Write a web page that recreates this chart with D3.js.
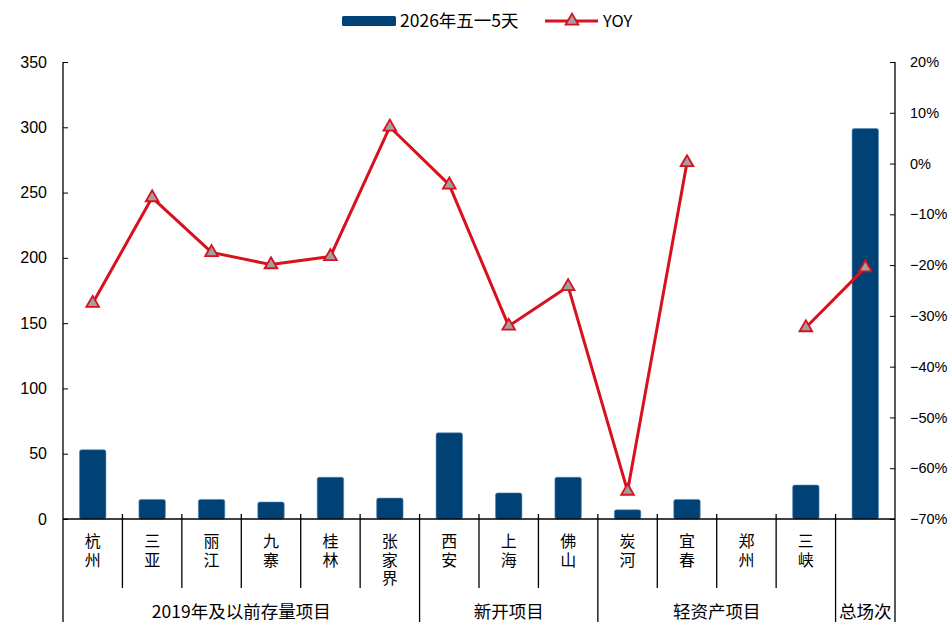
<!DOCTYPE html>
<html>
<head>
<meta charset="utf-8">
<script src="https://cdn.jsdelivr.net/npm/d3@7"></script>
<style>
  html, body { margin: 0; padding: 0; background: #fff; }
  svg { display: block; }
  .vlabel { writing-mode: vertical-rl; text-orientation: upright; }
</style>
</head>
<body>
<svg id="chart" width="948" height="622"></svg>
<script>
const categories = ["杭州", "三亚", "丽江", "九寨", "桂林", "张家界", "西安", "上海", "佛山", "炭河", "宜春", "郑州", "三峡", "总场次"];
const visitors = [53, 15, 15, 13, 32, 16, 66, 20, 32, 7, 15, null, 26, 299];
const yoy = [-0.275, -0.067, -0.175, -0.199, -0.183, 0.072, -0.042, -0.32, -0.242, -0.645, 0.002, null, -0.323, -0.205];
const groups = [
  { name: "2019年及以前存量项目", from: 0, to: 5 },
  { name: "新开项目", from: 6, to: 8 },
  { name: "轻资产项目", from: 9, to: 12 },
  { name: "总场次", from: 13, to: 13 }
];
const leftTicks = [0, 50, 100, 150, 200, 250, 300, 350];
const rightTicks = [-0.7, -0.6, -0.5, -0.4, -0.3, -0.2, -0.1, 0, 0.1, 0.2];
const seriesNames = ["2026年五一5天", "YOY"];

const svg = d3.select("#chart");
const L = 63, R = 895, T = 62, B = 519, BOTTOM = 622;
const barColor = "#004275", lineColor = "#d7111e", markerFill = "#a0a0a0";
const cjk = "'Noto Sans CJK SC', 'Noto Sans', sans-serif";
const num = "'Liberation Sans', Arial, sans-serif";

const x = d3.scaleBand().domain(categories).range([L, R]).padding(0);
const yL = d3.scaleLinear().domain([0, 350]).range([B, T]);
const yR = d3.scaleLinear().domain([-0.7, 0.2]).range([B, T]);

// bars
const bw = x.bandwidth() * 0.445;
svg.append("g").selectAll("rect")
  .data(categories.map((c, i) => ({ c, v: visitors[i] })).filter(d => d.v != null))
  .join("rect")
  .attr("x", d => x(d.c) + (x.bandwidth() - bw) / 2)
  .attr("y", d => yL(d.v))
  .attr("width", bw)
  .attr("height", d => yL(0) - yL(d.v))
  .attr("rx", 2)
  .attr("fill", barColor)
  .attr("stroke", "#5d86ad")
  .attr("stroke-width", 0.6);

// left axis
const gL = svg.append("g").attr("transform", `translate(${L},0)`)
  .call(d3.axisLeft(yL).tickValues(leftTicks).tickSizeInner(-5).tickSizeOuter(0).tickPadding(16));
gL.select(".domain").remove();
gL.selectAll("text").attr("font-family", num).attr("font-size", 16).attr("fill", "#000");
gL.selectAll("line").attr("stroke", "#000");

// right axis
const gR = svg.append("g").attr("transform", `translate(${R},0)`)
  .call(d3.axisRight(yR).tickValues(rightTicks).tickFormat(d3.format(".0%")).tickSizeInner(-5).tickSizeOuter(0).tickPadding(15));
gR.select(".domain").remove();
gR.selectAll("text").attr("font-family", num).attr("font-size", 14.5).attr("fill", "#000");
gR.selectAll("line").attr("stroke", "#000");

// axis lines
const axisG = svg.append("g").attr("stroke", "#000").attr("stroke-width", 1.3);
axisG.append("line").attr("x1", L).attr("x2", L).attr("y1", T).attr("y2", BOTTOM);
axisG.append("line").attr("x1", R).attr("x2", R).attr("y1", T).attr("y2", BOTTOM);
axisG.append("line").attr("x1", L).attr("x2", R).attr("y1", yL(0)).attr("y2", yL(0));

// category separators
const groupStarts = new Set(groups.map(g => g.from));
categories.forEach((c, i) => {
  if (i === 0) return;
  const xx = x(c);
  axisG.append("line").attr("x1", xx).attr("x2", xx)
    .attr("y1", yL(0) - 5).attr("y2", groupStarts.has(i) ? BOTTOM : 588);
});

// category labels (vertical writing)
const catG = svg.append("g").attr("font-family", cjk).attr("font-size", 16).attr("fill", "#000");
categories.forEach((c, i) => {
  if (c === "总场次") return;
  catG.append("text").attr("class", "vlabel")
    .attr("x", x(c) + x.bandwidth() / 2).attr("y", 533)
    .attr("letter-spacing", 2.5)
    .text(c);
});

// group labels
groups.forEach(g => {
  const x0 = x(categories[g.from]);
  const x1 = x(categories[g.to]) + x.bandwidth();
  svg.append("text").attr("x", (x0 + x1) / 2).attr("y", 618)
    .attr("text-anchor", "middle").attr("font-family", cjk).attr("font-size", 17.5)
    .attr("fill", "#000").text(g.name);
});

// line
const pts = categories.map((c, i) => ({ c, v: yoy[i] }));
const line = d3.line().defined(d => d.v != null)
  .x(d => x(d.c) + x.bandwidth() / 2).y(d => yR(d.v));
svg.append("path").datum(pts).attr("d", line)
  .attr("fill", "none").attr("stroke", lineColor).attr("stroke-width", 3).attr("stroke-linejoin", "round");

const tri = d3.symbol().type(d3.symbolTriangle).size(70);
svg.append("g").selectAll("path").data(pts.filter(d => d.v != null)).join("path")
  .attr("transform", d => `translate(${x(d.c) + x.bandwidth() / 2},${yR(d.v)})`)
  .attr("d", tri)
  .attr("fill", markerFill).attr("stroke", lineColor).attr("stroke-width", 1.8);

// legend
const lg = svg.append("g");
lg.append("rect").attr("x", 342).attr("y", 16).attr("width", 54).attr("height", 10).attr("rx", 1.5).attr("fill", barColor);
lg.append("text").attr("x", 400).attr("y", 27).attr("font-family", cjk).attr("font-size", 17.5).attr("fill", "#000").text(seriesNames[0]);
lg.append("line").attr("x1", 545).attr("x2", 598).attr("y1", 21).attr("y2", 21).attr("stroke", lineColor).attr("stroke-width", 3);
lg.append("path").attr("transform", "translate(572,21)").attr("d", tri).attr("fill", markerFill).attr("stroke", lineColor).attr("stroke-width", 1.8);
lg.append("text").attr("x", 603).attr("y", 27).attr("font-family", cjk).attr("font-size", 16.5).attr("fill", "#000").text(seriesNames[1]);
</script>
</body>
</html>
